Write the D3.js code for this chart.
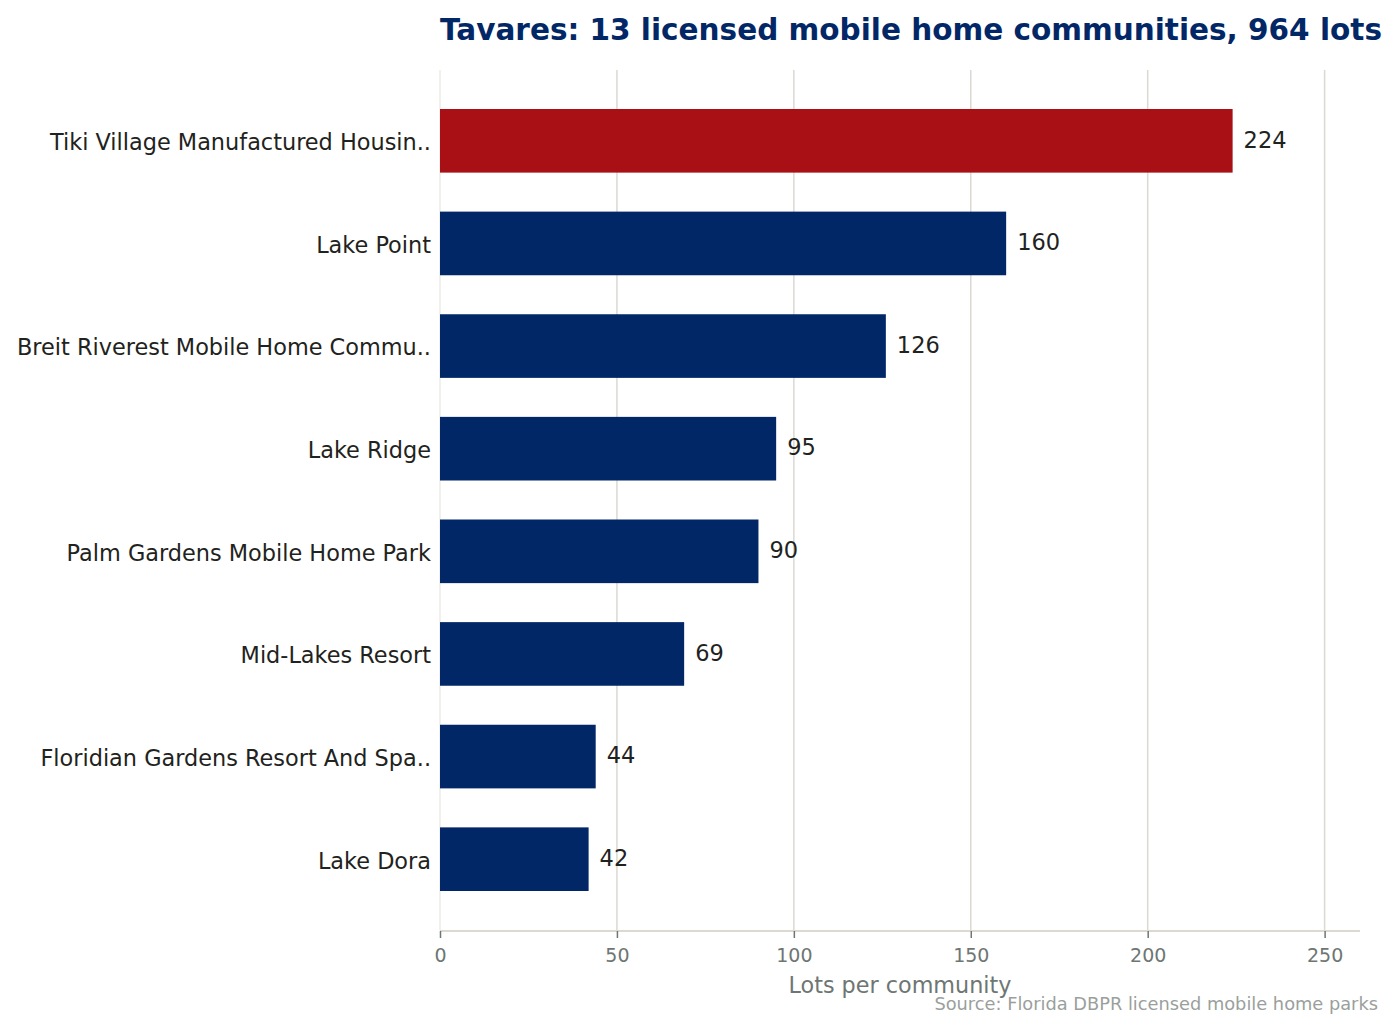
<!DOCTYPE html>
<html>
<head>
<meta charset="utf-8">
<script src="https://cdn.jsdelivr.net/npm/d3@7"></script>
<style>
  body { margin: 0; background: #fff; }
  text { font-family: "DejaVu Sans", sans-serif; }
</style>
</head>
<body>
<div id="chart"></div>
<script>
var communities = ["Tiki Village Manufactured Housin..", "Lake Point", "Breit Riverest Mobile Home Commu..",
    "Lake Ridge", "Palm Gardens Mobile Home Park", "Mid-Lakes Resort",
    "Floridian Gardens Resort And Spa..", "Lake Dora"]
var lots = [224, 160, 126, 95, 90, 69, 44, 42]
var xTicks = [0, 50, 100, 150, 200, 250]

var width = 1398, height = 1030
var margin = {top: 70, right: 38, bottom: 100, left: 440}

var svg = d3.select("#chart").append("svg")
    .attr("width", width)
    .attr("height", height)

var x = d3.scaleLinear()
    .domain([0, 260])
    .range([margin.left, width - margin.right])

var y = d3.scaleBand()
    .domain(communities)
    .range([margin.top, height - margin.bottom])
    .paddingInner(0.38)
    .paddingOuter(0.38)

// gridlines
svg.append("g")
    .selectAll("line")
    .data(xTicks)
    .enter()
    .append("line")
    .attr("x1", d => x(d)).attr("x2", d => x(d))
    .attr("y1", margin.top).attr("y2", height - margin.bottom)
    .style("stroke", d => d === 0 ? "#eeebe6" : "#dcd8d2")
    .style("stroke-width", 1.5)

// bars
svg.append("g")
    .selectAll("rect")
    .data(communities)
    .enter()
    .append("rect")
    .attr("x", x(0))
    .attr("y", d => y(d))
    .attr("height", y.bandwidth())
    .attr("width", (d, i) => x(lots[i]) - x(0))
    .style("fill", (d, i) => i === 0 ? "#a81015" : "#022766")

// value labels
svg.append("g")
    .selectAll("text")
    .data(communities)
    .enter()
    .append("text")
    .attr("x", (d, i) => x(lots[i]) + 11)
    .attr("y", d => y(d) + y.bandwidth() / 2)
    .attr("dy", "0.3em")
    .style("font-size", "22.5px")
    .style("fill", "#1f2320")
    .text((d, i) => lots[i])

// y axis
svg.append("g")
    .attr("transform", "translate(" + (margin.left - 9) + ",0)")
    .call(d3.axisLeft(y).tickSize(0).tickPadding(0))
    .call(g => g.select(".domain").remove())
    .call(g => g.selectAll("text")
        .attr("dy", "0.42em")
        .style("font-size", "22.4px")
        .style("fill", "#1f2320")
        .style("font-family", "DejaVu Sans"))

// x axis
var xAxis = svg.append("g")
    .attr("transform", "translate(0," + (height - margin.bottom + 1) + ")")
    .call(d3.axisBottom(x).tickValues(xTicks).tickSize(7).tickPadding(11))
xAxis.select(".domain")
    .style("stroke", "#dcd8d2")
    .style("stroke-width", 2)
    .attr("d", "M" + x(0) + ",0H" + (width - margin.right))
xAxis.selectAll(".tick line").style("stroke", "#6e7673").style("stroke-width", 1.5)
xAxis.selectAll("text")
    .style("font-size", "19px")
    .style("fill", "#6e7673")
    .style("font-family", "DejaVu Sans")

svg.append("text")
    .attr("x", (x(0) + width - margin.right) / 2)
    .attr("y", 993)
    .attr("text-anchor", "middle")
    .style("font-size", "22.3px")
    .style("fill", "#6e7673")
    .text("Lots per community")

svg.append("text")
    .attr("x", 1378)
    .attr("y", 1010)
    .attr("text-anchor", "end")
    .style("font-size", "17.8px")
    .style("fill", "#9a9f9c")
    .text("Source: Florida DBPR licensed mobile home parks")

svg.append("text")
    .attr("x", margin.left)
    .attr("y", 40)
    .style("font-size", "29.5px")
    .style("font-weight", "bold")
    .style("fill", "#022766")
    .text("Tavares: 13 licensed mobile home communities, 964 lots")
</script>
</body>
</html>
